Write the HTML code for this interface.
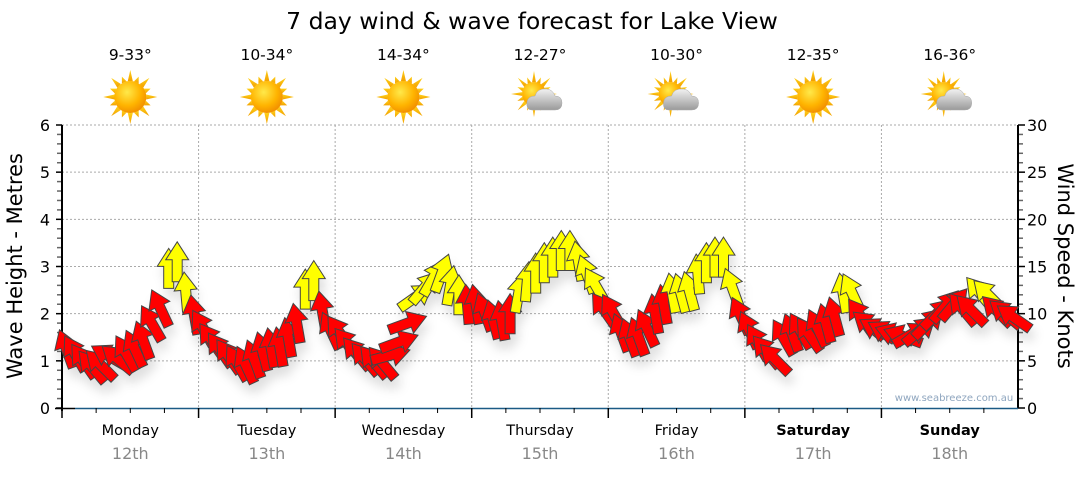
<!DOCTYPE html>
<html><head><meta charset="utf-8"><style>
body{margin:0;background:#fff;width:1080px;height:475px;overflow:hidden;font-family:"DejaVu Sans","Liberation Sans",sans-serif}
svg text{font-family:"DejaVu Sans","Liberation Sans",sans-serif}
</style></head><body>
<svg id="chart" width="1080" height="475" viewBox="0 0 1080 475" xmlns="http://www.w3.org/2000/svg">
<defs>
<radialGradient id="sunG" cx="0.4" cy="0.35" r="0.7"><stop offset="0" stop-color="#ffe94a"/><stop offset="0.6" stop-color="#ffb400"/><stop offset="1" stop-color="#f08a00"/></radialGradient>
<linearGradient id="rayG" x1="0" y1="0" x2="0" y2="1"><stop offset="0" stop-color="#ffd21a"/><stop offset="1" stop-color="#f2a000"/></linearGradient>
<linearGradient id="cloudG" x1="0" y1="0" x2="0" y2="1"><stop offset="0" stop-color="#f2f2f2"/><stop offset="1" stop-color="#9a9a9a"/></linearGradient>
<filter id="shadow" x="-50%" y="-50%" width="200%" height="200%"><feDropShadow dx="3" dy="9" stdDeviation="5" flood-color="#000" flood-opacity="0.12"/></filter>
</defs>
<text x="532" y="29" font-size="23.5" text-anchor="middle" fill="#000">7 day wind &amp; wave forecast for Lake View</text>
<g id="grid"></g>
<g id="axes"></g>
<g id="icons"></g>
<g id="arrows" filter="url(#shadow)"></g>
<text transform="translate(22,266) rotate(-90)" font-size="21" text-anchor="middle">Wave Height - Metres</text>
<text transform="translate(1058,266) rotate(90)" font-size="21" text-anchor="middle">Wind Speed - Knots</text>
<text x="954" y="401" font-size="10" text-anchor="middle" fill="#8fa6bf">www.seabreeze.com.au</text>
</svg>
<script>
const days = ["Monday","Tuesday","Wednesday","Thursday","Friday","Saturday","Sunday"];
const dates = ["12th","13th","14th","15th","16th","17th","18th"];
const temps = ["9-33°","10-34°","14-34°","12-27°","10-30°","12-35°","16-36°"];
const cloudy = [false,false,false,true,true,false,true];
const boldDays = [false,false,false,false,false,true,true];
const waveTicks = [0,1,2,3,4,5,6];
const windTicks = [0,5,10,15,20,25,30];
const windSpeed = [
6.3,5.8,5.0,4.4,4.6,5.5,5.2,5.8,6.3,7.2,9.0,10.6,14.8,15.5,12.3,9.9,
8.5,7.2,6.2,5.5,4.8,4.6,5.2,6.0,6.4,6.5,7.5,9.0,12.6,13.5,10.3,8.2,
8.0,6.8,5.8,5.2,4.9,4.8,5.6,7.0,9.0,11.8,12.8,13.8,14.3,13.0,12.0,11.0,
11.0,10.2,9.4,9.3,10.0,12.2,13.4,14.3,15.4,16.0,16.7,16.7,15.6,14.2,13.0,10.4,
10.2,8.0,7.5,7.6,8.5,10.0,11.0,12.2,12.2,12.4,14.2,15.4,16.0,16.0,12.8,9.8,
8.3,7.0,6.0,5.2,7.5,8.0,8.2,7.8,8.5,9.0,9.7,12.2,12.3,9.8,8.8,8.3,
8.0,7.8,7.6,7.8,8.2,9.0,10.0,10.8,11.0,10.5,10.4,12.2,12.0,10.3,10.0,9.6];
const windDir = [
-20,-30,-35,-40,-45,-60,-50,-30,-25,-20,-30,-25,0,0,-5,-10,
-30,-35,-35,-35,-30,-25,-20,-15,-10,-10,-10,-10,0,0,-10,-25,
-35,-40,-40,-40,-40,-40,75,70,70,55,40,30,20,10,0,-5,
-10,-20,-15,-10,0,10,5,0,0,0,0,0,-10,-20,-30,-35,
-30,-20,-20,-20,-25,-10,-10,-10,-15,-15,-5,0,0,0,-20,-25,
-25,-30,-40,-45,-30,-20,-30,-35,-25,-15,-15,-10,-25,-35,-50,-60,
-60,-70,-70,60,50,45,45,40,40,-40,-45,-40,-45,-45,-50,-55];
const yellowThreshold = 11.5;

const NS="http://www.w3.org/2000/svg";
const X0=62,X1=1018,Y0=408,Y1=125;
const dayW=(X1-X0)/7;
const perDay=16;
const xIdx=i=>X0+(i+0.5)*dayW/perDay;
const yKn=v=>Y0-(v/30)*(Y0-Y1);
const yM=v=>Y0-(v/6)*(Y0-Y1);
function mk(tag,attrs,parent){const e=document.createElementNS(NS,tag);for(const k in attrs)e.setAttribute(k,attrs[k]);parent.appendChild(e);return e;}
const grid=document.getElementById('grid'),axes=document.getElementById('axes'),icons=document.getElementById('icons'),arrows=document.getElementById('arrows');

waveTicks.forEach(v=>{
  const y=yM(v);
  if(v>0){const l=mk('line',{x1:X0,x2:X1,y1:y,y2:y,stroke:'#aaa','stroke-dasharray':'2,2'},grid);
  
  }
  const t=mk('text',{x:50,y:y+6,'font-size':16,'text-anchor':'end'},axes);t.textContent=v;
  
  
});
windTicks.forEach(v=>{
  const t=mk('text',{x:1027,y:yKn(v)+6,'font-size':16,'text-anchor':'start'},axes);t.textContent=v;
  
  
});
for(let k=0;k<=30;k++){
  const y=yKn(k),major=k%5===0;
  mk('line',{x1:major?X0-6:X0-5,x2:X0,y1:y,y2:y,stroke:major?'#000':'#666','stroke-width':1.5},axes);
  mk('line',{x1:X1,x2:major?X1+7:X1+5,y1:y,y2:y,stroke:major?'#000':'#666','stroke-width':1.5},axes);
}
let a=mk('line',{x1:X0,x2:X0,y1:Y1,y2:Y0+3,stroke:'#000','stroke-width':2},axes);


a=mk('line',{x1:X1,x2:X1,y1:Y1,y2:Y0,stroke:'#000','stroke-width':2},axes);


mk('line',{x1:X0-7,x2:X0+13,y1:Y0+0.5,y2:Y0+0.5,stroke:'#000','stroke-width':1.5},axes);
a=mk('line',{x1:X0+13,x2:X1,y1:Y0+0.5,y2:Y0+0.5,stroke:'#1b5a85','stroke-width':1.5},axes);



days.forEach((d,i)=>{
  const xs=X0+i*dayW,cx=xs+dayW/2;
  if(i>0){const g=mk('line',{x1:xs,x2:xs,y1:Y1,y2:Y0,stroke:'#aaa','stroke-dasharray':'2,2'},grid);
    
    }
  mk('line',{x1:xs,x2:xs,y1:Y0,y2:Y0+10,stroke:'#000','stroke-width':1.5},axes);
  for(let q=1;q<4;q++){const xx=xs+q*dayW/4;mk('line',{x1:xx,x2:xx,y1:Y0,y2:Y0+5,stroke:'#000','stroke-width':1},axes);}
  const t=mk('text',{x:cx,y:435,'font-size':14.5,'text-anchor':'middle','font-weight':boldDays[i]?'bold':'normal'},axes);t.textContent=d;
  
  
  const t2=mk('text',{x:cx,y:459,'font-size':16,'text-anchor':'middle',fill:'#888'},axes);t2.textContent=dates[i];
  
  
  const t3=mk('text',{x:cx,y:60,'font-size':15.5,'text-anchor':'middle'},icons);t3.textContent=temps[i];
  
  
  const g=mk('g',{},icons);
  
  
  const sx=cloudy[i]?cx-6:cx, sy=cloudy[i]?94:97, r=cloudy[i]?12:16;
  for(let k=0;k<16;k++){
    const ang=k*Math.PI/8, len=(k%2?r+6:r+11), w=0.16;
    const p=[[sx+Math.cos(ang)*len,sy+Math.sin(ang)*len],[sx+Math.cos(ang+w)*r,sy+Math.sin(ang+w)*r],[sx+Math.cos(ang-w)*r,sy+Math.sin(ang-w)*r]];
    mk('polygon',{points:p.map(q=>q.join(',')).join(' '),fill:'url(#rayG)'},g);
  }
  mk('circle',{cx:sx,cy:sy,r:r,fill:'url(#sunG)'},g);
  if(cloudy[i]){
    mk('path',{d:`M${cx-8},${sy+16} q-6,0 -5,-8 q1,-6 8,-6 q2,-8 12,-7 q6,1 8,7 q7,0 7,7 q0,7 -7,7 z`,fill:'url(#cloudG)',stroke:'#aaa','stroke-width':0.5},g);
  }
});

const L=40,HW=11.5,HL=18,SW=5;
windSpeed.forEach((v,i)=>{
  const x=xIdx(i),y=yKn(v);
  const pts=[[0,-L/2],[HW,-L/2+HL],[SW,-L/2+HL],[SW,L/2],[-SW,L/2],[-SW,-L/2+HL],[-HW,-L/2+HL]];
  const p=mk('polygon',{points:pts.map(q=>q.join(',')).join(' '),transform:`translate(${x.toFixed(1)},${y.toFixed(1)}) rotate(${windDir[i]})`,fill:v>=yellowThreshold?'#ffff00':'#ff0000',stroke:'#444','stroke-width':1},arrows);
  
  
});
</script>
</body></html>
